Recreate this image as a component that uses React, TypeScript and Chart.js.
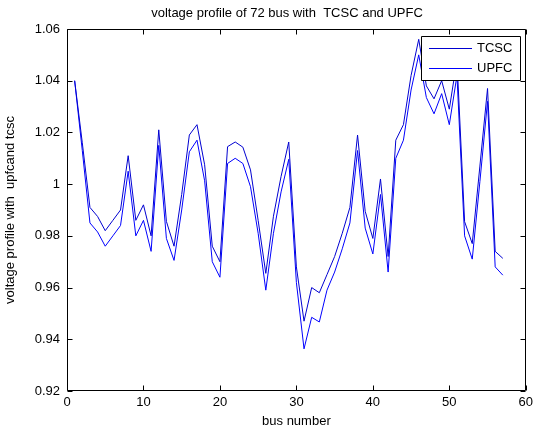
import React, { useEffect, useRef } from "react";
import { Chart, registerables } from "chart.js";

Chart.register(...registerables);

const busNumbers = [
  1, 2, 3, 4, 5, 6, 7, 8, 9, 10, 11, 12, 13, 14, 15, 16, 17, 18, 19, 20,
  21, 22, 23, 24, 25, 26, 27, 28, 29, 30, 31, 32, 33, 34, 35, 36, 37, 38, 39, 40,
  41, 42, 43, 44, 45, 46, 47, 48, 49, 50, 51, 52, 53, 54, 55, 56, 57,
];

const tcscValues = [
  1.04, 1.016, 0.991, 0.9875, 0.982, 0.986, 0.99, 1.011, 0.986, 0.992,
  0.98, 1.021, 0.9856, 0.976, 0.996, 1.019, 1.023, 1.0075, 0.976, 0.97,
  1.0145, 1.0163, 1.0143, 1.0055, 0.986, 0.9655, 0.9876, 1.003, 1.0163, 0.968,
  0.947, 0.96, 0.958, 0.965, 0.972, 0.981, 0.991, 1.019, 0.9895, 0.979,
  1.002, 0.972, 1.017, 1.023, 1.042, 1.056, 1.038, 1.033, 1.04, 1.029,
  1.048, 0.9855, 0.977, 1.007, 1.037, 0.974, 0.9713,
];

const upfcValues = [
  1.04, 1.013, 0.985, 0.9815, 0.976, 0.98, 0.984, 1.005, 0.98, 0.986,
  0.974, 1.015, 0.979, 0.9705, 0.99, 1.0125, 1.017, 1.0013, 0.97, 0.964,
  1.008, 1.01, 1.008, 0.999, 0.981, 0.959, 0.981, 0.997, 1.0096, 0.962,
  0.9363, 0.9485, 0.9467, 0.959, 0.966, 0.975, 0.985, 1.013, 0.983, 0.973,
  0.996, 0.966, 1.01, 1.017, 1.0364, 1.05, 1.0335, 1.0272, 1.035, 1.023,
  1.042, 0.98, 0.971, 1.001, 1.032, 0.968, 0.9648,
];

const seriesLabels = ["TCSC", "UPFC"];
const seriesColors = ["#0000d0", "#0000ff"];

const chartTitle = "voltage profile of 72 bus with  TCSC and UPFC";
const xAxisTitle = "bus number";
const yAxisTitle = "voltage profile with  upfcand tcsc";

const xMin = 0;
const xMax = 60;
const xStep = 10;
const yMin = 0.92;
const yMax = 1.06;
const yStep = 0.02;

const FONT = '"Liberation Sans", Arial, Helvetica, sans-serif';

const matlabPlugin = {
  id: "matlabDecor",
  afterDatasetsDraw(chart: any) {
    const { ctx, chartArea, scales } = chart;
    const { left, right, top, bottom } = chartArea;
    const xs = scales.x;
    const ys = scales.y;
    ctx.save();
    ctx.strokeStyle = "#000";
    ctx.lineWidth = 1;
    ctx.beginPath();
    const L = Math.round(left) + 0.5;
    const R = Math.round(right) - 0.5;
    const T = Math.round(top) + 0.5;
    const B = Math.round(bottom) - 0.5;
    ctx.rect(L, T, R - L, B - T);
    const tl = 5;
    xs.ticks.forEach((t: any) => {
      const px = Math.round(xs.getPixelForValue(t.value)) + 0.5;
      ctx.moveTo(px, B);
      ctx.lineTo(px, B - tl);
      ctx.moveTo(px, T);
      ctx.lineTo(px, T + tl);
    });
    ys.ticks.forEach((t: any) => {
      const py = Math.round(ys.getPixelForValue(t.value)) + 0.5;
      ctx.moveTo(L, py);
      ctx.lineTo(L + tl, py);
      ctx.moveTo(R, py);
      ctx.lineTo(R - tl, py);
    });
    ctx.stroke();

    // title
    ctx.fillStyle = "#000";
    ctx.font = `13px ${FONT}`;
    ctx.textAlign = "center";
    ctx.textBaseline = "middle";
    ctx.fillText(chartTitle, 287, 13);

    // legend
    const lx = 421.5, ly = 36.5, lw = 99, lh = 44;
    ctx.fillStyle = "#fff";
    ctx.fillRect(lx, ly, lw, lh);
    ctx.beginPath();
    ctx.rect(lx, ly, lw, lh);
    ctx.strokeStyle = "#000";
    ctx.stroke();
    chart.data.datasets.forEach((ds: any, i: number) => {
      const yy = 48 + i * 20 + 0.5;
      ctx.beginPath();
      ctx.strokeStyle = ds.borderColor;
      ctx.moveTo(429, yy);
      ctx.lineTo(472, yy);
      ctx.stroke();
      ctx.fillStyle = "#000";
      ctx.textAlign = "left";
      ctx.textBaseline = "middle";
      ctx.font = `13px ${FONT}`;
      ctx.fillText(ds.label, 477, yy);
    });
    ctx.restore();
  },
};

export default function App() {
  const ref = useRef<HTMLCanvasElement | null>(null);
  useEffect(() => {
    document.body.style.margin = "0";
    Chart.defaults.font.family = FONT;
    Chart.defaults.font.size = 13;
    Chart.defaults.color = "#000";
    const valuesList = [tcscValues, upfcValues];
    const chart = new Chart(ref.current as HTMLCanvasElement, {
      type: "line",
      data: {
        datasets: valuesList.map((vals, i) => ({
          label: seriesLabels[i],
          data: busNumbers.map((b, j) => ({ x: b, y: vals[j] })),
          borderColor: seriesColors[i],
          backgroundColor: seriesColors[i],
          borderWidth: 1,
          pointRadius: 0,
          tension: 0,
          fill: false,
        })),
      },
      options: {
        animation: false,
        responsive: false,
        devicePixelRatio: 1,
        layout: { padding: { top: 29, right: 10, left: 0, bottom: 0 } },
        plugins: {
          legend: { display: false },
          title: { display: false },
          tooltip: { enabled: false },
        },
        scales: {
          x: {
            type: "linear",
            min: xMin,
            max: xMax,
            border: { display: false },
            grid: { display: false, drawTicks: false },
            ticks: { stepSize: xStep, padding: 4, maxRotation: 0 },
            title: {
              display: true,
              text: xAxisTitle,
              font: { size: 13 },
              padding: { top: 0, bottom: 4 },
            },
            afterFit: (s: any) => {
              s.height = 42;
            },
          },
          y: {
            type: "linear",
            min: yMin,
            max: yMax,
            border: { display: false },
            grid: { display: false, drawTicks: false },
            ticks: {
              stepSize: yStep,
              padding: 7,
              callback: (v: any) => String(parseFloat(Number(v).toFixed(2))),
            },
            title: {
              display: true,
              text: yAxisTitle,
              font: { size: 13 },
              padding: { top: 3, bottom: 0 },
            },
            afterFit: (s: any) => {
              s.width = 67;
            },
          },
        },
      },
      plugins: [matlabPlugin],
    });
    return () => chart.destroy();
  }, []);
  return (
    <div style={{ position: "absolute", left: 0, top: 0, width: 537, height: 433, background: "#fff" }}>
      <canvas ref={ref} width={537} height={433} style={{ display: "block" }} />
    </div>
  );
}
